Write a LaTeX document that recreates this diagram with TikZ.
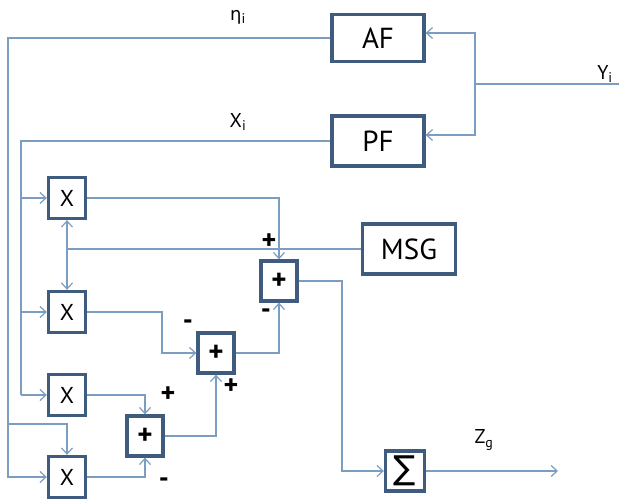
\documentclass[tikz,border=0pt]{standalone}
\usepackage{fontspec}
\setmainfont{PT Sans}
\newfontfamily\grk{DejaVu Sans}
\usetikzlibrary{arrows.meta}
\definecolor{boxc}{HTML}{3F5C7E}
\definecolor{linec}{HTML}{7B9DC2}
\begin{document}
\begin{tikzpicture}[x=1pt,y=-1pt,
  blk/.style={draw=boxc,line width=3.3pt,fill=white,inner sep=0pt,font=\fontsize{29}{31}\selectfont},
  mul/.style={draw=boxc,line width=3.3pt,fill=white,inner sep=0pt,minimum width=37pt,minimum height=41pt,font=\fontsize{23}{25}\selectfont},
  sumb/.style={draw=boxc,line width=3.3pt,fill=white,inner sep=0pt,minimum width=36pt,minimum height=40pt,font=\fontsize{29}{31}\selectfont\bfseries},
  conn/.style={draw=linec,line width=1.2pt},
  arr/.style={conn,-{Straight Barb[length=6pt,width=11pt,line width=1.2pt]}},
  lbl/.style={font=\fontsize{20}{22}\selectfont,inner sep=0pt},
  sgn/.style={font=\fontsize{28}{30}\selectfont\bfseries,inner sep=0pt}]
\useasboundingbox (0,0) rectangle (619,502);
% blocks
\node[blk,minimum width=92pt,minimum height=47pt] (AF) at (378,38) {AF};
\node[blk,minimum width=92pt,minimum height=50pt] (PF) at (378,141) {PF};
\node[blk,minimum width=93pt,minimum height=50pt] (MSG) at (409,249) {MSG};
\node[mul] (m1) at (67,198) {X};
\node[mul] (m2) at (67,312) {X};
\node[mul] (m3) at (67,395) {X};
\node[mul] (m4) at (67,477) {X};
\node[sumb] (s1) at (279,281) {+};
\node[sumb] (s2) at (216,353) {+};
\node[sumb] (s3) at (145,436) {+};
\node[sumb,minimum width=39pt,font={\grk\fontsize{33}{35}\selectfont}] (sg) at (405,471) {∑};
% input Y
\coordinate (yin) at (619,84);
\coordinate (yj) at (475,84);
\draw[conn] (yin) -- (yj);
\draw[arr] (yj) |- ([yshift=5pt]AF.east);
\draw[arr] (yj) |- ([yshift=6pt]PF.east);
% eta line
\coordinate (eL) at (8,38);
\coordinate (eb) at (8,424);
\draw[arr] (AF.west) -- (eL) |- (m4.west);
\draw[arr] (eb) -| (m4.north);
% X line
\coordinate (xL) at (21,141);
\coordinate (xB) at (21,395);
\draw[conn] (PF.west) -- (xL) -- (xB);
\draw[arr] (xB) -- (m3.west);
\draw[arr] (xL |- m1.west) -- (m1.west);
\draw[arr] (xL |- m2.west) -- (m2.west);
% MSG
\coordinate (mj) at (67,249);
\draw[conn] (MSG.west) -- (mj);
\draw[arr] (mj) -- (m1.south);
\draw[arr] (mj) -- (m2.north);
% adders
\draw[arr] (m1.east) -| (s1.north);
\coordinate (s1r) at (342,281);
\draw[arr] (s1.east) -- (s1r) |- (sg.west);
\coordinate (m2r) at (162,312);
\draw[arr] (m2.east) -- (m2r) |- (s2.west);
\draw[arr] (s2.east) -| (s1.south);
\draw[arr] (m3.east) -| (s3.north);
\draw[arr] (s3.east) -| (s2.south);
\draw[arr] (m4.east) -| (s3.south);
\coordinate (zout) at (558,471);
\draw[arr] (sg.east) -- (zout);
% labels
\node[lbl] (leta) at (238,17) {{\grk\fontsize{18}{20}\selectfont η}\textsubscript{i}};
\node[lbl] (lx) at (238,122) {X\textsubscript{i}};
\node[lbl] (ly) at (605,74) {Y\textsubscript{i}};
\node[lbl] (lz) at (484,440) {Z\textsubscript{g}};
\node[sgn] (p1) at (269,242) {+};
\node[sgn] (n1) at (266,314) {-};
\node[sgn] (n2) at (188,325) {-};
\node[sgn] (p2) at (231,387) {+};
\node[sgn] (p3) at (168,395) {+};
\node[sgn] (n3) at (164,483) {-};
\end{tikzpicture}
\end{document}
